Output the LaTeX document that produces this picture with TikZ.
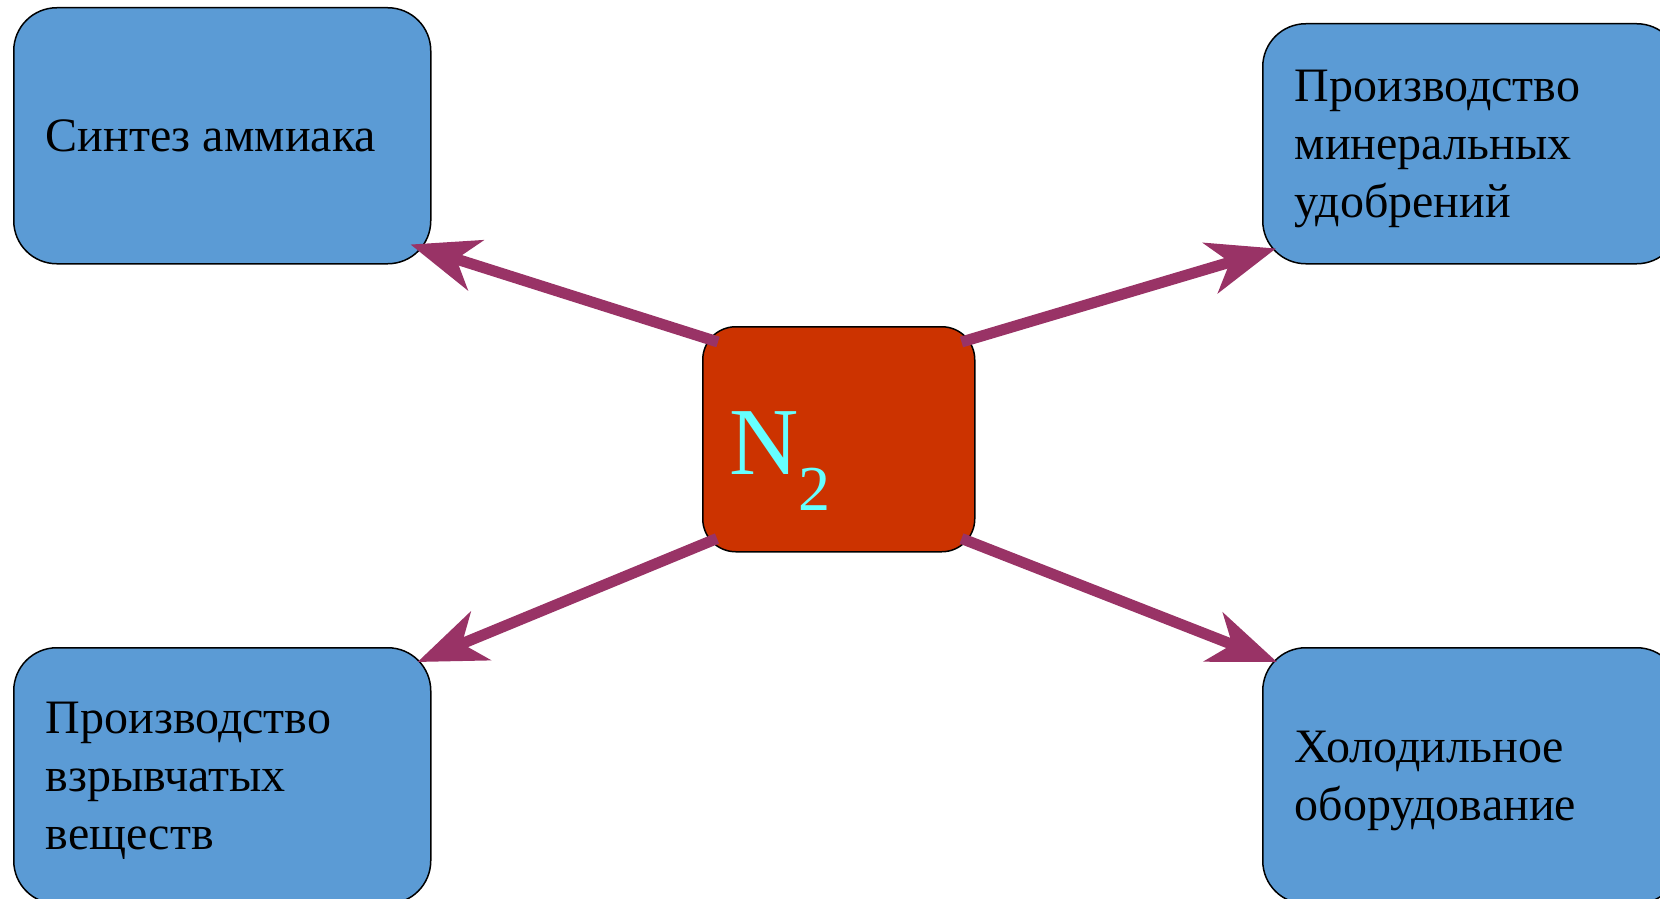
\documentclass[tikz,border=0pt]{standalone}
\usepackage{fontspec}
\setmainfont{Liberation Serif}
\usetikzlibrary{arrows.meta}

\definecolor{useblue}{HTML}{5B9BD5}
\definecolor{corered}{HTML}{CC3300}
\definecolor{labcyan}{HTML}{66FFFF}
\definecolor{linkplum}{HTML}{993366}

\begin{document}
\begin{tikzpicture}[
  x=1pt, y=-1pt,
  >={Stealth[length=68pt, width=52pt, inset=20pt]},
  use/.style={draw, line width=1.5pt, fill=useblue, rounded corners=43pt,
              anchor=north west, minimum width=417pt, minimum height=256pt,
              text width=353pt, inner xsep=32pt, inner ysep=0pt,
              align=flush left, font=\fontsize{48}{58}\selectfont},
  two lines/.style={text depth=58pt},
  three lines/.style={text depth=116pt},
  core/.style={draw, line width=1.5pt, fill=corered, rounded corners=33pt,
               anchor=north west, minimum width=272pt, minimum height=225pt},
  link/.style={->, draw=linkplum, line width=11pt}
]
  \useasboundingbox (0,0) rectangle (1660,899);
  \clip (0,0) rectangle (1660,899);

  % the four uses of nitrogen
  \node[use] (synth) at (13,7)    {Синтез аммиака};
  \node[use, three lines, minimum height=240pt] (fert) at (1262,23)
    {Производство\\минеральных\\удобрений};
  \node[use, three lines] (expl) at (13,647)
    {Производство\\взрывчатых\\веществ};
  \node[use, two lines] (cold) at (1262,647)
    {Холодильное\\оборудование};

  % nitrogen in the middle
  \node[core] (core) at (702,326) {};
  \node[anchor=base west, inner sep=0pt, text=labcyan,
        font=\fontsize{96}{96}\selectfont] (n2) at (729,474)
    {N\raisebox{-36pt}{\fontsize{64}{64}\selectfont 2}};

  \draw[link] ([shift={(16,16)}]core.north west)  -- ([shift={(-21,-20)}]synth.south east);
  \draw[link] ([shift={(-14,16)}]core.north east) -- ([shift={(14,-16)}]fert.south west);
  \draw[link] ([shift={(15,-14)}]core.south west) -- ([shift={(-14,15)}]expl.north east);
  \draw[link] ([shift={(-14,-14)}]core.south east) -- ([shift={(15,15)}]cold.north west);
\end{tikzpicture}
\end{document}
